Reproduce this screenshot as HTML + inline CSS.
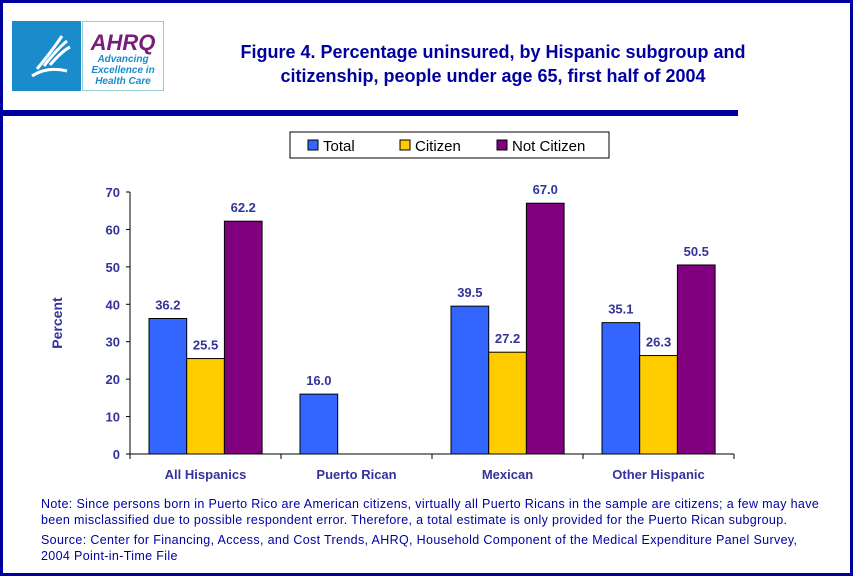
<!DOCTYPE html>
<html><head><meta charset="utf-8"><style>
body{margin:0;background:#fff;}
#wrap{position:relative;width:853px;height:576px;box-sizing:border-box;border:3px solid #0000a0;overflow:hidden;font-family:"Liberation Sans",sans-serif;}
.t{position:absolute;}
</style></head><body>
<div id="wrap">
<div class="t" style="left:9px;top:18px;width:69px;height:70px;background:#1a8ccc;"></div>
<svg class="t" style="left:9px;top:18px" width="69" height="70"><path d="M20 55 Q35 45 55 50 M25 48 Q40 30 50 15 M32 45 Q45 28 55 20 M38 44 Q50 30 58 26" stroke="#fff" stroke-width="3" fill="none"/></svg>
<div class="t" style="left:79px;top:18px;width:82px;height:70px;border:1px solid #9cc;box-sizing:border-box;text-align:center;">
<div style="font:italic bold 22px 'Liberation Sans';color:#7a1c7a;margin-top:10px;line-height:22px">AHRQ</div>
<div style="font:italic bold 10px 'Liberation Sans';color:#1a8ccc;line-height:11px">Advancing<br>Excellence in<br>Health Care</div></div>
<div class="t" style="left:190px;top:37px;width:600px;text-align:center;font:bold 18px 'Liberation Sans';color:#0000a0;line-height:24px">Figure 4. Percentage uninsured, by Hispanic subgroup and citizenship, people under age 65, first half of 2004</div>
<div class="t" style="left:0;top:107px;width:735px;height:6px;background:#0000a0"></div>
<svg class="t" id="chart" style="left:-3px;top:-3px" width="853" height="576"></svg>
<div class="t" style="left:38px;top:493px;width:810px;font:12.5px 'Liberation Sans';letter-spacing:0.35px;color:#0000a0;line-height:16px;white-space:nowrap">Note: Since persons born in Puerto Rico are American citizens, virtually all Puerto Ricans in the sample are citizens; a few may have<br>been misclassified due to possible respondent error. Therefore, a total estimate is only provided for the Puerto Rican subgroup.</div>
<div class="t" style="left:38px;top:529px;width:810px;font:12.5px 'Liberation Sans';letter-spacing:0.35px;color:#0000a0;line-height:16px;white-space:nowrap">Source: Center for Financing, Access, and Cost Trends, AHRQ, Household Component of the Medical Expenditure Panel Survey,<br>2004 Point-in-Time File</div>
</div>
<script>
const categories=["All Hispanics","Puerto Rican","Mexican","Other Hispanic"];
const seriesNames=["Total","Citizen","Not Citizen"];
const totalVals=[36.2,16.0,39.5,35.1];
const citizenVals=[25.5,null,27.2,26.3];
const notCitizenVals=[62.2,null,67.0,50.5];
const yTicks=[0,10,20,30,40,50,60,70];
const colors=["#3366ff","#ffcc00","#800080"];
const NS="http://www.w3.org/2000/svg";
const svg=document.getElementById('chart');
const x0=130,x1=734,y0=454,y1=192,ymax=70;
const y=v=>y0-(v/ymax)*(y0-y1);
const cw=(x1-x0)/categories.length;
function mk(t,a,p){const e=document.createElementNS(NS,t);for(const k in a)e.setAttribute(k,a[k]);(p||svg).appendChild(e);return e;}
let e=mk('line',{x1:x0,y1:y1,x2:x0,y2:y0,stroke:'#000'});


e=mk('line',{x1:x0,y1:y0,x2:x1,y2:y0,stroke:'#000'});


yTicks.forEach(t=>{mk('line',{x1:x0-4,x2:x0,y1:y(t),y2:y(t),stroke:'#000'});
 e=mk('text',{x:x0-10,y:y(t)+5,'text-anchor':'end','font-size':13,'font-weight':'bold',fill:'#333399','font-family':'Liberation Sans'});e.textContent=t;
 
 });
for(let i=0;i<=categories.length;i++)mk('line',{x1:x0+i*cw,x2:x0+i*cw,y1:y0,y2:y0+5,stroke:'#000'});
e=mk('text',{x:62,y:y(35),'text-anchor':'middle','font-size':14,'font-weight':'bold',fill:'#333399','font-family':'Liberation Sans',transform:`rotate(-90 62 ${y(35)})`});e.textContent='Percent';


const series=[totalVals,citizenVals,notCitizenVals];
const bw=37.7,off=19;
categories.forEach((c,i)=>{
 e=mk('text',{x:x0+i*cw+cw/2,y:479,'text-anchor':'middle','font-size':13,'font-weight':'bold',fill:'#333399','font-family':'Liberation Sans'});e.textContent=c;
 
 
 series.forEach((s,j)=>{const v=s[i];if(v==null)return;
  const bx=x0+i*cw+off+j*bw;
  e=mk('rect',{x:bx,y:y(v),width:bw,height:y0-y(v),fill:colors[j],stroke:'#000','stroke-width':1});
  
  
  e=mk('text',{x:bx+bw/2,y:y(v)-9,'text-anchor':'middle','font-size':13,'font-weight':'bold',fill:'#333399','font-family':'Liberation Sans'});e.textContent=v.toFixed(1);
  
  
 });
});
e=mk('rect',{x:290,y:132,width:319,height:26,fill:'#fff',stroke:'#000'});


const lx=[308,400,497];
seriesNames.forEach((n,j)=>{
 e=mk('rect',{x:lx[j],y:140,width:10,height:10,fill:colors[j],stroke:'#000'});
 
 
 e=mk('text',{x:lx[j]+15,y:151,'font-size':15,fill:'#000','font-family':'Liberation Sans'});e.textContent=n;
 
 
});
</script>
</body></html>
